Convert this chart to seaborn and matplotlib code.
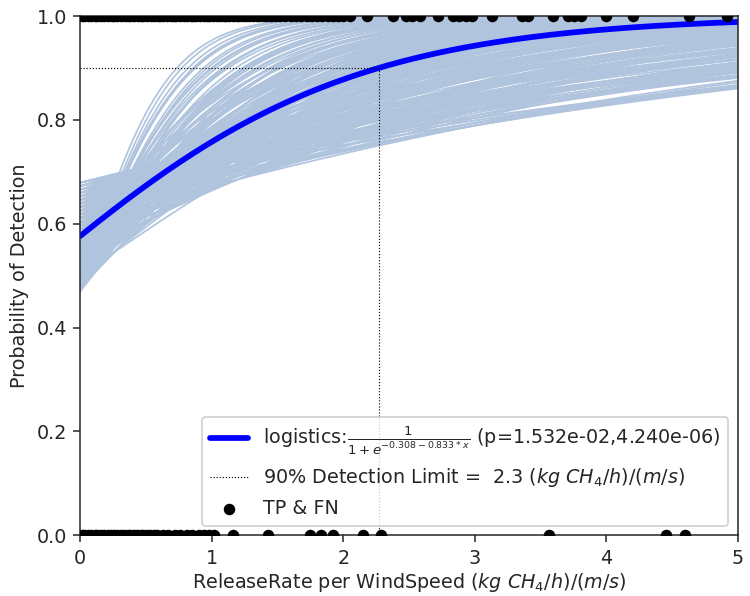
import numpy as np
import pandas as pd
import seaborn as sns
import matplotlib.pyplot as plt

# fitted logistic model
b0_fit = 0.308
b1_fit = 0.833
p_vals = [1.532e-02, 4.240e-06]

# bootstrap fits: intercepts, and the slopes found for each intercept
boot_b0 = [-0.12, -0.10, -0.08, -0.05, -0.02, 0.00, 0.03, 0.06, 0.09, 0.12,
           0.15, 0.18, 0.21, 0.24, 0.27, 0.30, 0.33, 0.36, 0.39, 0.42,
           0.45, 0.48, 0.51, 0.54, 0.57, 0.60, 0.63, 0.66, 0.69, 0.72, 0.75]
boot_b1 = [[1.3, 1.55, 1.8, 2.1, 2.4, 2.7, 3.0],
           [1.1, 1.35, 1.6, 1.85, 2.1, 2.45, 2.8],
           [1.0, 1.25, 1.5, 1.8, 2.2, 2.6, 3.1],
           [0.9, 1.05, 1.2, 1.5, 1.9, 2.25, 2.6],
           [0.8, 1.1, 1.4, 1.8, 2.2],
           [0.7, 0.85, 1.0, 1.35, 1.7, 2.2],
           [0.75, 0.9, 1.1, 1.35, 1.6, 2.0],
           [0.7, 0.82, 0.95, 1.1, 1.3, 1.6, 1.9],
           [0.65, 0.78, 0.9, 1.05, 1.2, 1.45, 1.7],
           [0.6, 0.72, 0.85, 0.98, 1.1, 1.3, 1.5],
           [0.55, 0.68, 0.8, 0.9, 1.0, 1.2, 1.4],
           [0.5, 0.62, 0.75, 0.88, 1.0, 1.2, 1.6],
           [0.5, 0.6, 0.7, 0.82, 0.95, 1.1, 1.3],
           [0.45, 0.55, 0.65, 0.78, 0.9, 1.05, 1.2],
           [0.45, 0.52, 0.6, 0.72, 0.85, 0.98, 1.1],
           [0.4, 0.5, 0.6, 0.7, 0.8, 0.9, 1.0, 1.15, 1.3],
           [0.4, 0.48, 0.55, 0.65, 0.75, 0.85, 0.95],
           [0.35, 0.42, 0.5, 0.6, 0.7, 0.8, 0.9],
           [0.35, 0.42, 0.5, 0.58, 0.65, 0.75, 0.85, 1.0, 1.1],
           [0.3, 0.38, 0.45, 0.52, 0.6, 0.7, 0.8],
           [0.3, 0.36, 0.42, 0.48, 0.55, 0.65, 0.75],
           [0.28, 0.34, 0.4, 0.47, 0.55, 0.62, 0.7],
           [0.27, 0.32, 0.38, 0.44, 0.5, 0.58, 0.65],
           [0.26, 0.3, 0.35, 0.42, 0.48, 0.55, 0.62],
           [0.25, 0.29, 0.33, 0.39, 0.45, 0.52, 0.6],
           [0.25, 0.3, 0.36, 0.42, 0.48, 0.55],
           [0.24, 0.3, 0.35, 0.40, 0.45, 0.5],
           [0.24, 0.28, 0.32, 0.36, 0.40, 0.45],
           [0.23, 0.27, 0.30, 0.34, 0.38],
           [0.23, 0.26, 0.29, 0.32, 0.36],
           [0.22, 0.25, 0.28, 0.30]]

# observations: detected (TP) at 1, not detected (FN) at 0
det_x = [0.01, 0.03, 0.06, 0.08, 0.11, 0.13, 0.16, 0.18, 0.21, 0.24, 0.26, 0.28,
         0.31, 0.34, 0.36, 0.38, 0.41, 0.44, 0.46, 0.48, 0.51, 0.54, 0.56, 0.59,
         0.61, 0.63, 0.66, 0.69, 0.71, 0.73, 0.76, 0.79, 0.81, 0.84, 0.86, 0.88,
         0.91, 0.94, 0.96, 0.98, 1.01, 1.04, 1.06, 1.09, 1.11, 1.13, 1.16, 1.19,
         1.21, 1.24, 1.26, 1.28, 1.31, 1.34, 1.36, 1.39, 1.41, 1.44, 1.46, 1.49,
         1.52, 1.56, 1.60, 1.64, 1.68, 1.72, 1.76, 1.80, 1.84, 1.88, 1.92, 1.96,
         2.00, 2.05, 2.18, 2.38, 2.48, 2.52, 2.58, 2.72, 2.83, 2.88, 2.93, 2.98,
         3.13, 3.36, 3.40, 3.59, 3.71, 3.75, 3.81, 4.00, 4.20, 4.63, 4.92]
nd_x = [0.01, 0.03, 0.06, 0.08, 0.11, 0.13, 0.16, 0.18, 0.21, 0.23, 0.26, 0.28,
        0.31, 0.33, 0.36, 0.38, 0.41, 0.43, 0.46, 0.48, 0.51, 0.53, 0.56, 0.58,
        0.63, 0.67, 0.72, 0.76, 0.81, 0.85, 0.90, 0.94, 0.98, 1.02, 1.16, 1.43,
        1.75, 1.83, 1.92, 2.15, 2.29, 3.56, 4.45, 4.60]


def logistic(x, a, b):
    return 1 / (1 + np.exp(-a - b * x))


sns.set_style("ticks")
plt.rcParams['font.family'] = ['DejaVu Sans']
plt.rcParams['font.size'] = 10

fig, ax = plt.subplots(figsize=(750 / 138, 596 / 138), dpi=138)
fig.subplots_adjust(left=0.107, right=0.984, bottom=0.102, top=0.973)

xs = np.linspace(0, 5, 200)

pairs = [(a, b) for a, bs in zip(boot_b0, boot_b1) for b in bs]
boot = pd.DataFrame({
    'x': np.tile(xs, len(pairs)),
    'p': np.concatenate([logistic(xs, a, b) for a, b in pairs]),
    'run': np.repeat(np.arange(len(pairs)), len(xs)),
})
sns.lineplot(data=boot, x='x', y='p', units='run', estimator=None,
             color='lightsteelblue', lw=0.9, ax=ax, legend=False)

fit_label = (f'logistics:$\\frac{{1}}{{1+e^{{-{b0_fit:.3f}-{b1_fit:.3f}*x}}}}$'
             f' (p={p_vals[0]:.3e},{p_vals[1]:.3e})')
sns.lineplot(x=xs, y=logistic(xs, b0_fit, b1_fit), color='blue', lw=3,
             label=fit_label, ax=ax)

# 90% detection limit
dl = (np.log(9) - b0_fit) / b1_fit
ax.plot([0, dl], [0.9, 0.9], ':', color='k', lw=0.6,
        label=f'90% Detection Limit =  {dl:.1f} $(kg\\ CH_4/h)/(m/s)$')
ax.plot([dl, dl], [0, 0.9], ':', color='k', lw=0.6)

obs = pd.DataFrame({'x': det_x + nd_x, 'y': [1] * len(det_x) + [0] * len(nd_x)})
sns.scatterplot(data=obs, x='x', y='y', color='black', s=36, linewidth=0,
                label='TP & FN', ax=ax, zorder=3)

ax.set_xlim(0, 5)
ax.set_ylim(0, 1)
ax.set_xlabel('ReleaseRate per WindSpeed $(kg\\ CH_4/h)/(m/s)$', labelpad=2)
ax.set_ylabel('Probability of Detection')
ax.legend(loc='lower right', frameon=True)

fig.savefig('out.png', dpi=138)
